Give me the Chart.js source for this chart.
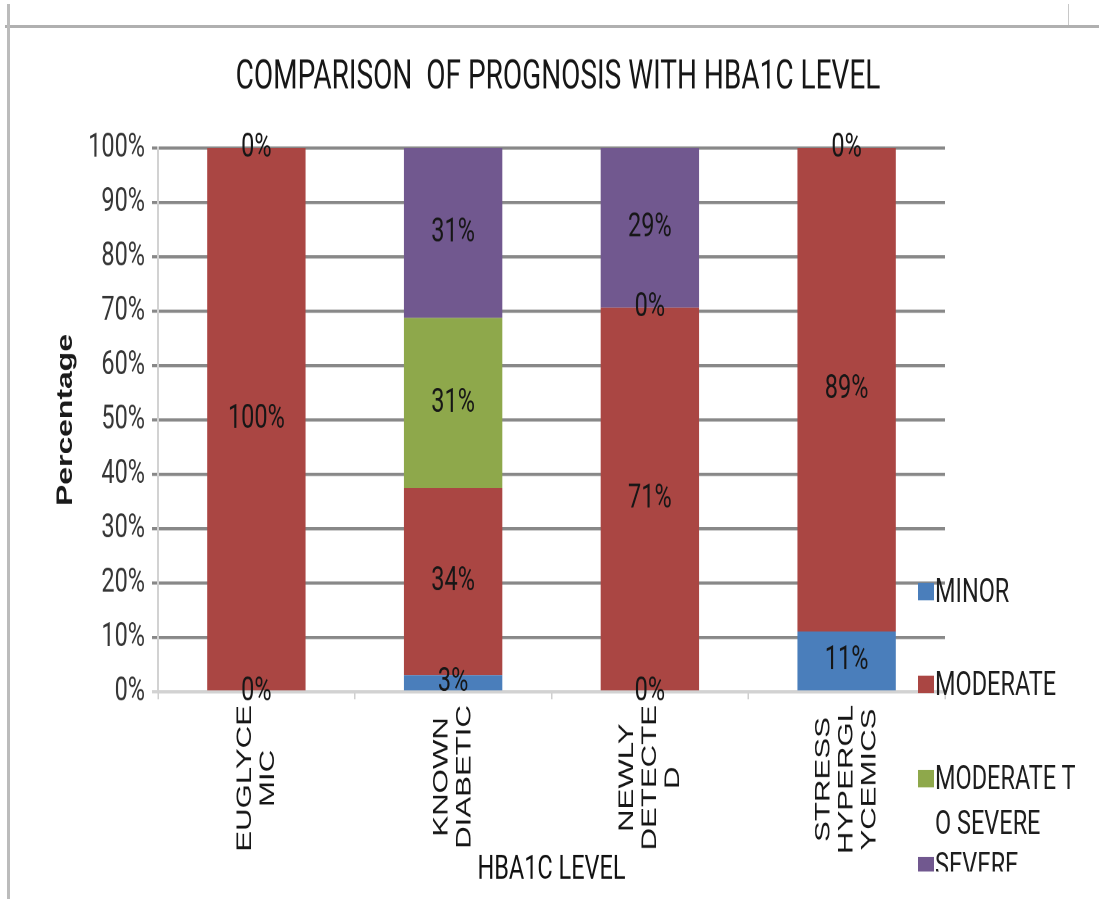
<!DOCTYPE html>
<html>
<head>
<meta charset="utf-8">
<title>Comparison of prognosis with HbA1c level</title>
<script src="https://cdn.jsdelivr.net/npm/chart.js@4.4.1/dist/chart.umd.min.js"></script>
<style>
    html, body { margin: 0; padding: 0; background: #fff; }
    body { width: 1099px; height: 899px; position: relative; overflow: hidden; }
    .frame-top { position: absolute; left: 5px; top: 25px; width: 1094px; height: 3px; background: #b0b0b0; }
    .frame-left { position: absolute; left: 7px; top: 4px; width: 3px; height: 895px; background: #bcbcbc; }
    .frame-mark { position: absolute; left: 1068px; top: 4px; width: 1px; height: 21px; background: #c8c8c8; }
    /* le graphique d'origine est étiré verticalement */
    #stage { position: absolute; left: 0; top: 0; width: 1099px; height: 620px; transform: scaleY(1.45); transform-origin: 0 0; }
    #chart-box { position: absolute; left: 0; top: 0; width: 1099px; height: 620px; }
    #legend { position: absolute; left: 917px; top: 0; width: 182px; height: 601px; overflow: hidden;
              font-family: Roboto, sans-serif; font-size: 23.5px; color: #1e1e1e; }
    .leg-item { position: absolute; left: 0; width: 182px; }
    .leg-box { position: absolute; left: 1px; top: 9.5px; width: 16px; height: 12px; }
    .leg-text { position: absolute; left: 18px; top: 0; line-height: 31px; white-space: nowrap; }
</style>
</head>
<body>
<div class="frame-top"></div>
<div class="frame-left"></div>
<div class="frame-mark"></div>
<div id="stage">
    <div id="chart-box"><canvas id="chart"></canvas></div>
    <div id="legend"></div>
</div>
<script>
// Données
const categories = [['EUGLYCE', 'MIC'], ['KNOWN', 'DIABETIC'], ['NEWLY', 'DETECTE', 'D'], ['STRESS', 'HYPERGL', 'YCEMICS']];
const seriesNames = ['MINOR', 'MODERATE', 'MODERATE TO SEVERE', 'SEVERE'];
const minor = [0, 3.1, 0, 11.1];
const moderate = [100, 34.4, 70.6, 88.9];
const moderateToSevere = [null, 31.25, 0, null];
const severe = [0, 31.25, 29.4, 0];
const yTicks = [0, 10, 20, 30, 40, 50, 60, 70, 80, 90, 100];
const legendLines = [['MINOR'], ['MODERATE'], ['MODERATE T', 'O SEVERE'], ['SEVERE']];
const colors = ['#4A7EBB', '#AA4643', '#8EA84B', '#71588F'];

const seriesValues = [minor, moderate, moderateToSevere, severe];

// Étiquettes de pourcentage au centre de chaque segment
const barLabels = {
    id: 'barLabels',
    afterDatasetsDraw(chart) {
        const ctx = chart.ctx;
        ctx.save();
        ctx.font = '23.5px Roboto, sans-serif';
        ctx.fillStyle = '#161616';
        ctx.textAlign = 'center';
        ctx.textBaseline = 'middle';
        chart.data.datasets.forEach((ds, i) => {
            const meta = chart.getDatasetMeta(i);
            meta.data.forEach((bar, j) => {
                const v = ds.data[j];
                if (v === null) return;
                const p = bar.getProps(['x', 'y', 'base'], true);
                ctx.fillText(Math.round(v) + '%', p.x, (p.y + p.base) / 2);
            });
        });
        ctx.restore();
    }
};

// Noms des catégories, verticaux et centrés ligne par ligne
const categoryLabels = {
    id: 'categoryLabels',
    afterDraw(chart) {
        const ctx = chart.ctx;
        const xs = chart.scales.x;
        ctx.save();
        ctx.font = '21.5px "Liberation Sans", Arial, sans-serif';
        ctx.fillStyle = '#161616';
        ctx.textAlign = 'center';
        ctx.textBaseline = 'middle';
        const pitch = 23;
        categories.forEach((lines, i) => {
            const x = xs.getPixelForTick(i);
            const longest = Math.max(...lines.map(l => ctx.measureText(l).width));
            ctx.save();
            ctx.translate(x, xs.top + 9);
            ctx.rotate(-Math.PI / 2);
            lines.forEach((line, k) => {
                ctx.fillText(line, -longest / 2, (k - (lines.length - 1) / 2) * pitch);
            });
            ctx.restore();
        });
        ctx.restore();
    }
};

new Chart(document.getElementById('chart'), {
    type: 'bar',
    data: {
        labels: categories,
        datasets: seriesNames.map((name, i) => ({
            label: name,
            data: seriesValues[i],
            backgroundColor: colors[i],
            borderWidth: 0,
            barPercentage: 0.5,
            categoryPercentage: 1.0
        }))
    },
    options: {
        responsive: true,
        maintainAspectRatio: false,
        animation: false,
        devicePixelRatio: 2,
        layout: { padding: { left: 17, right: 0, top: 0, bottom: 0 } },
        plugins: {
            legend: { display: false },
            tooltip: { enabled: false },
            title: {
                display: true,
                text: 'COMPARISON  OF PROGNOSIS WITH HBA1C LEVEL',
                color: '#161616',
                font: { family: 'Roboto', size: 28, weight: 'normal' },
                padding: { top: 37, bottom: 31.4 }
            }
        },
        scales: {
            x: {
                stacked: true,
                grid: { display: true, drawOnChartArea: false, drawTicks: true, tickLength: 5,
                        color: '#cfcfcf', lineWidth: 1.5, offset: true },
                border: { display: false },
                ticks: { display: false },
                title: { display: true, text: 'HBA1C LEVEL', color: '#111',
                         font: { family: 'Roboto', size: 23.5 }, padding: { top: 0, bottom: 6 } },
                afterFit: s => { s.height = 142.8; }
            },
            y: {
                stacked: true,
                min: 0,
                max: 100,
                afterBuildTicks: s => { s.ticks = yTicks.map(v => ({ value: v })); },
                ticks: { callback: v => v + '%', color: '#363636',
                         font: { family: 'Roboto', size: 23.5 }, padding: 7 },
                grid: { color: c => (c.tick && c.tick.value === 0) ? '#d2d2d2' : '#888888',
                        lineWidth: 2.2, tickLength: 6 },
                border: { display: true, color: '#d2d2d2', width: 2 },
                title: { display: true, text: 'Percentage', color: '#1a1a1a',
                         font: { family: '"Liberation Sans", Arial, sans-serif', size: 22, weight: 'bold' },
                         padding: { top: 35.5, bottom: 0 } },
                afterFit: s => { s.width = 141; }
            },
            // place réservée à la légende, à droite
            legendSpace: {
                type: 'linear',
                position: 'right',
                display: true,
                grid: { display: false },
                ticks: { display: false },
                border: { display: false },
                afterFit: s => { s.width = 154; }
            }
        }
    },
    plugins: [barLabels, categoryLabels]
});

// Légende HTML
const legendTops = [407.6, 471.7, 536.6, 596.5];
const legendEl = document.getElementById('legend');
legendLines.forEach((lines, i) => {
    const item = document.createElement('div');
    item.className = 'leg-item';
    item.style.top = (legendTops[i] - 15.5) + 'px';
    item.innerHTML = `<div class="leg-box" style="background:${colors[i]}"></div>` +
        `<div class="leg-text">${lines.join('<br>')}</div>`;
    legendEl.appendChild(item);
});
</script>
</body>
</html>
